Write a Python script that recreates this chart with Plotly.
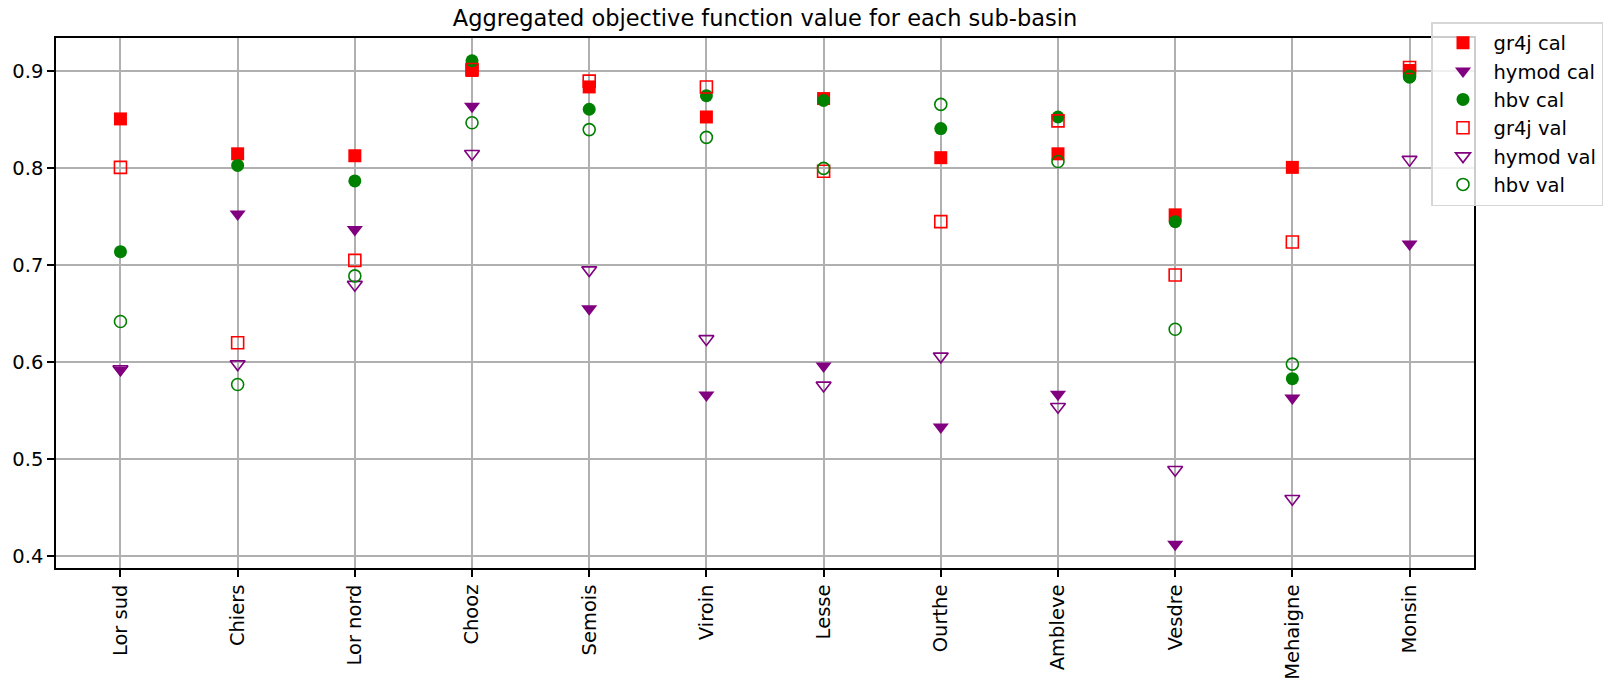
import plotly.graph_objects as go

# Sub-basins along the x axis
basins = ["Lor sud", "Chiers", "Lor nord", "Chooz", "Semois", "Viroin",
          "Lesse", "Ourthe", "Ambleve", "Vesdre", "Mehaigne", "Monsin"]

# Aggregated objective function per model, calibration period
gr4j_cal = [0.851, 0.815, 0.813, 0.901, 0.884, 0.853, 0.872, 0.811, 0.815, 0.752, 0.801, 0.901]
hymod_cal = [0.592, 0.753, 0.737, 0.864, 0.655, 0.566, 0.596, 0.533, 0.567, 0.412, 0.563, 0.722]
hbv_cal = [0.714, 0.803, 0.787, 0.911, 0.861, 0.875, 0.870, 0.841, 0.853, 0.745, 0.583, 0.894]

# Aggregated objective function per model, validation period
gr4j_val = [0.801, 0.620, 0.705, 0.902, 0.890, 0.884, 0.797, 0.745, 0.849, 0.690, 0.724, 0.904]
hymod_val = [0.593, 0.598, 0.680, 0.815, 0.695, 0.624, 0.576, 0.606, 0.554, 0.489, 0.459, 0.809]
hbv_val = [0.642, 0.577, 0.689, 0.847, 0.840, 0.832, 0.800, 0.866, 0.807, 0.634, 0.598, 0.895]

yticks = [0.4, 0.5, 0.6, 0.7, 0.8, 0.9]

RED = "#ff0000"
PURPLE = "#800080"
GREEN = "#008000"
FONT = "DejaVu Sans"

W, H = 1606, 682

series = [
    ("gr4j cal", gr4j_cal, "square", RED),
    ("hymod cal", hymod_cal, "triangle-down", PURPLE),
    ("hbv cal", hbv_cal, "circle", GREEN),
    ("gr4j val", gr4j_val, "square-open", RED),
    ("hymod val", hymod_val, "triangle-down-open", PURPLE),
    ("hbv val", hbv_val, "circle-open", GREEN),
]

xpos = list(range(len(basins)))

fig = go.Figure()
for name, vals, symbol, color in series:
    hollow = symbol.endswith("-open")
    size = 12 if hollow else 13
    if symbol.startswith("triangle"):
        size += 1
    fig.add_trace(go.Scatter(
        x=xpos, y=vals, name=name, mode="markers",
        marker=dict(symbol=symbol, color=color, size=size,
                    line=dict(color=color, width=1.6 if hollow else 0)),
    ))

axis_common = dict(
    showgrid=True, gridcolor="#b0b0b0", gridwidth=1.5,
    showline=True, linecolor="#000000", linewidth=1.5, mirror=True,
    ticks="outside", ticklen=7, tickwidth=1.5, tickcolor="#000000",
    zeroline=False,
    tickfont=dict(family=FONT, size=19.5, color="#000000"),
)

fig.update_xaxes(
    range=[-0.55, len(basins) - 1 + 0.55],
    tickmode="array", tickvals=xpos, ticktext=basins, tickangle=-90,
    **axis_common,
)
fig.update_yaxes(
    range=[0.3876, 0.9345],
    tickmode="array", tickvals=yticks, ticktext=[f"{v:.1f}" for v in yticks],
    **axis_common,
)

fig.update_layout(
    width=W, height=H,
    margin=dict(l=56, r=132, t=38, b=114, autoexpand=False),
    paper_bgcolor="white", plot_bgcolor="white",
    font=dict(family=FONT, color="#000000"),
    title=dict(
        text="Aggregated objective function value for each sub-basin",
        font=dict(family=FONT, size=22.5, color="#000000"),
        x=(56 + 1474) / 2 / W, xanchor="center",
        yref="container", y=1 - 18 / H, yanchor="middle",
    ),
    showlegend=True,
    legend=dict(
        xref="container", yref="container",
        x=1431 / W, y=1 - 22 / H, xanchor="left", yanchor="top",
        bgcolor="rgba(255,255,255,0.8)", bordercolor="#d6d6d6", borderwidth=1.5,
        font=dict(family=FONT, size=19.5, color="#000000"),
        itemwidth=51,
    ),
)

fig.write_html("out.html")
